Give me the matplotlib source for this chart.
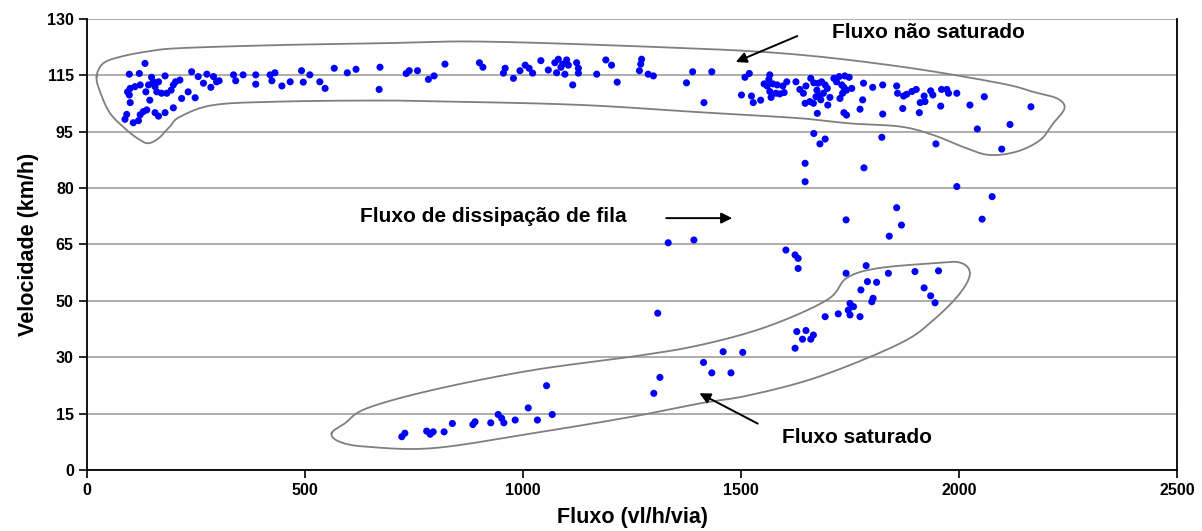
import numpy as np
import matplotlib
matplotlib.use("Agg")
import matplotlib.pyplot as plt

plt.rcParams['font.family'] = ['Liberation Sans', 'DejaVu Sans']

# observed (flux, speed) pairs - free flow cluster
free_flow = [
    (97,114.1),(120,114.3),(133,117.2),(148,113.2),(152,111.9),(141,111.0),(122,111.0),(110,110.5),(99,110.0),(93,109.0),
    (97,108.1),(99,105.9),(135,109.0),(144,106.6),(156,110.5),(164,111.9),(179,113.6),(160,109.0),(171,108.6),(183,108.6),
    (193,109.5),(198,111.0),(203,111.9),(213,112.4),(240,114.8),(255,113.4),(275,114.1),(267,111.5),(290,113.4),(284,110.3),
    (297,111.9),(303,112.2),(232,109.0),(217,107.1),(248,107.3),(129,103.3),(137,103.8),(122,102.4),(91,102.5),(87,101.1),
    (106,100.1),(118,100.7),(156,103.0),(164,102.0),(179,103.0),(198,104.4),(336,113.9),(341,112.2),(358,113.9),(387,113.9),
    (387,111.2),(420,113.9),(431,114.5),(424,112.2),(447,110.7),(466,111.9),(492,115.1),(496,111.8),(511,113.9),(534,111.9),
    (546,110.0),(567,115.8),(597,114.5),(617,115.5),(672,116.1),(670,109.7),(732,114.3),(739,115.1),(758,115.1),(783,112.6),
    (796,113.6),(821,117.0),(900,117.4),(908,116.1),(959,115.8),(955,114.4),(978,112.9),(993,115.1),(1005,116.7),(1014,115.8),
    (1022,114.4),(1041,118.0),(1058,115.3),(1073,117.4),(1081,118.4),(1087,116.1),(1077,114.5),(1096,114.1),(1100,118.2),
    (1104,116.7),(1091,117.0),(1123,117.4),(1127,115.8),(1127,114.4),(1114,111.0),(1169,114.1),(1190,118.2),(1203,116.7),
    (1216,111.8),(1272,118.4),(1270,117.0),(1267,115.1),(1287,114.1),(1299,113.6),
    (1375,111.6),(1389,114.8),(1433,114.8),(1519,114.3),(1509,113.2),(1501,108.1),(1415,105.9),(1524,107.8),(1528,105.9),
    (1545,106.6),(1566,113.9),(1564,112.6),(1553,111.3),(1560,110.7),(1573,111.3),(1583,111.0),(1566,109.1),(1569,107.4),
    (1580,108.6),(1589,108.4),(1599,108.8),(1596,110.7),(1605,111.9),(1626,111.9),(1635,109.7),(1643,108.6),(1649,110.7),
    (1660,112.9),(1667,111.6),(1674,109.5),(1677,111.5),(1672,107.6),(1685,111.9),(1693,111.0),(1698,110.0),(1680,107.8),
    (1658,106.2),(1647,105.7),(1666,105.7),(1699,105.2),(1704,107.4),(1689,108.6),(1683,106.7),(1675,102.8),(1713,112.9),
    (1725,113.4),(1738,113.6),(1748,113.2),(1719,111.9),(1731,111.0),(1736,110.3),(1742,109.5),(1754,110.0),(1733,108.6),
    (1727,107.1),(1736,103.0),(1742,102.3),(1781,111.5),(1802,110.3),(1825,111.0),(1779,106.7),(1773,104.0),(1825,102.6),
    (1857,110.7),(1859,108.6),(1873,107.8),(1880,108.3),(1892,109.1),(1902,109.7),(1871,104.2),(1909,103.0),(1911,105.9),
    (1922,106.2),(1920,107.8),(1935,109.3),(1940,108.1),(1960,109.7),(1972,109.7),(1976,108.6),(1995,108.6),(1958,104.9),
    (2025,105.2),(2058,107.6),(2165,104.7),(2117,99.6),(2042,98.3),(2098,92.5),(1823,95.9),(1667,97.0),(1693,95.4),
    (1681,94.0),(1947,94.0),
]

# queue discharge points
discharge = [
    (1647,88.4),(1647,83.1),(1782,87.1),(1995,81.7),(2076,78.8),(1857,75.6),(1741,72.1),(1868,70.6),(2053,72.3),
    (1840,67.4),(1392,66.3),(1333,65.5),(1603,63.4),(1624,62.0),(1631,61.0),(1631,58.1),(1309,45.2),
]

# congested points
congested = [
    (1787,58.9),(1741,56.7),(1838,56.7),(1899,57.2),(1953,57.4),(1790,54.3),(1811,54.1),(1775,51.9),(1920,52.5),(1935,50.2),
    (1945,48.2),(1803,49.5),(1800,48.5),(1750,48.0),(1758,47.1),(1746,46.1),(1723,45.0),(1693,44.2),(1773,44.2),(1750,44.7),
    (1628,39.9),(1649,40.2),(1641,37.7),(1666,38.9),(1660,37.7),(1624,35.1),(1314,26.7),(1300,22.1),(1414,31.0),(1459,34.1),
    (1504,33.9),(1433,28.0),(1477,28.0),(1054,24.3),(1012,17.9),(1067,16.0),(1033,14.4),(982,14.4),(956,13.6),(951,14.9),
    (943,16.0),(926,13.6),(890,13.9),(885,13.1),(838,13.4),(819,11.0),(794,11.0),(787,10.3),(779,11.2),(729,10.6),(722,9.6),
]

# hand drawn outlines around the two regimes (flux, speed)
upper_outline = [
    (22,113.4),(37,117.2),(76,119.1),(137,120.6),(213,121.6),(443,122.5),(672,123.0),(901,123.5),(1291,122.0),(1596,120.1),
    (1865,116.3),(2094,111.5),(2170,109.0),(2225,107.1),(2242,104.3),(2216,99.9),(2186,95.1),(2133,91.8),(2071,90.8),
    (2018,92.7),(1940,96.6),(1865,99.0),(1750,99.9),(1635,101.4),(1445,102.8),(1138,105.2),(833,106.2),(672,106.5),
    (443,106.2),(290,105.2),(213,101.8),(190,99.0),(164,95.6),(141,94.2),(122,95.1),(91,98.0),(53,102.8),(30,109.0),
]
lower_outline = [
    (561,10.6),(592,13.5),(642,17.8),(794,23.1),(1023,28.8),(1252,32.7),(1406,36.0),(1559,41.3),(1697,49.0),(1742,55.3),
    (1811,58.1),(1941,59.6),(2002,59.8),(2025,56.7),(2002,50.9),(1941,43.2),(1865,36.5),(1681,27.0),(1521,21.6),
    (1406,19.2),(1252,15.4),(1023,10.6),(794,6.3),(642,6.7),(580,8.1),
]

x_ticks = [0, 500, 1000, 1500, 2000, 2500]
y_tick_labels = ['0', '15', '30', '50', '65', '80', '95', '115', '130']


# closed Catmull-Rom curve through the outline vertices
def smooth_closed(pts, n=16):
    p = np.asarray(pts, float)
    m = len(p)
    t = np.linspace(0, 1, n, endpoint=False)[:, None]
    segs = []
    for i in range(m):
        p0, p1, p2, p3 = p[i - 1], p[i], p[(i + 1) % m], p[(i + 2) % m]
        segs.append(0.5 * (2 * p1 + (-p0 + p2) * t + (2 * p0 - 5 * p1 + 4 * p2 - p3) * t ** 2
                           + (-p0 + 3 * p1 - 3 * p2 + p3) * t ** 3))
    out = np.vstack(segs)
    return np.vstack([out, out[:1]])


fig = plt.figure(figsize=(12.02, 5.31), dpi=100)
ax = fig.add_axes([0.0724, 0.1149, 0.9068, 0.8493])

y_pos = np.linspace(0, 130, len(y_tick_labels))
for y in y_pos:
    ax.axhline(y, color='#a0a0a0', lw=1.2, zorder=0)

for group in (free_flow, discharge, congested):
    arr = np.array(group)
    ax.scatter(arr[:, 0], arr[:, 1], s=26, color='#0000ff', edgecolors='none', zorder=3)

for outline in (upper_outline, lower_outline):
    c = smooth_closed(outline)
    ax.plot(c[:, 0], c[:, 1], color='#7f7f7f', lw=1.3, zorder=2)

arrow = dict(arrowstyle='-|>', color='black', lw=1.4, mutation_scale=16)
ax.text(1929, 126.0, 'Fluxo não saturado', ha='center', va='center', fontsize=15, fontweight='bold')
ax.annotate('', xy=(1482, 117.3), xytext=(1635, 125.4), arrowprops=arrow)
ax.text(931, 73.0, 'Fluxo de dissipação de fila', ha='center', va='center', fontsize=15, fontweight='bold')
ax.annotate('', xy=(1486, 72.6), xytext=(1322, 72.6), arrowprops=arrow)
ax.text(1766, 9.5, 'Fluxo saturado', ha='center', va='center', fontsize=15, fontweight='bold')
ax.annotate('', xy=(1399, 22.5), xytext=(1544, 13.0), arrowprops=arrow)

ax.set_xlim(0, 2500)
ax.set_ylim(0, 130)
ax.set_xticks(x_ticks)
ax.set_xticklabels([str(v) for v in x_ticks], fontsize=11.5, fontweight='bold')
ax.set_yticks(y_pos)
ax.set_yticklabels(y_tick_labels, fontsize=11.5, fontweight='bold')
ax.tick_params(direction='out', length=6, width=1.2, colors='black')
for side in ('left', 'bottom', 'right'):
    ax.spines[side].set_linewidth(1.3)
ax.spines['top'].set_visible(False)
ax.set_xlabel('Fluxo (vl/h/via)', fontsize=15.5, fontweight='bold', labelpad=6)
ax.set_ylabel('Velocidade (km/h)', fontsize=15.5, fontweight='bold', labelpad=6)

fig.savefig('out.png', dpi=100)
